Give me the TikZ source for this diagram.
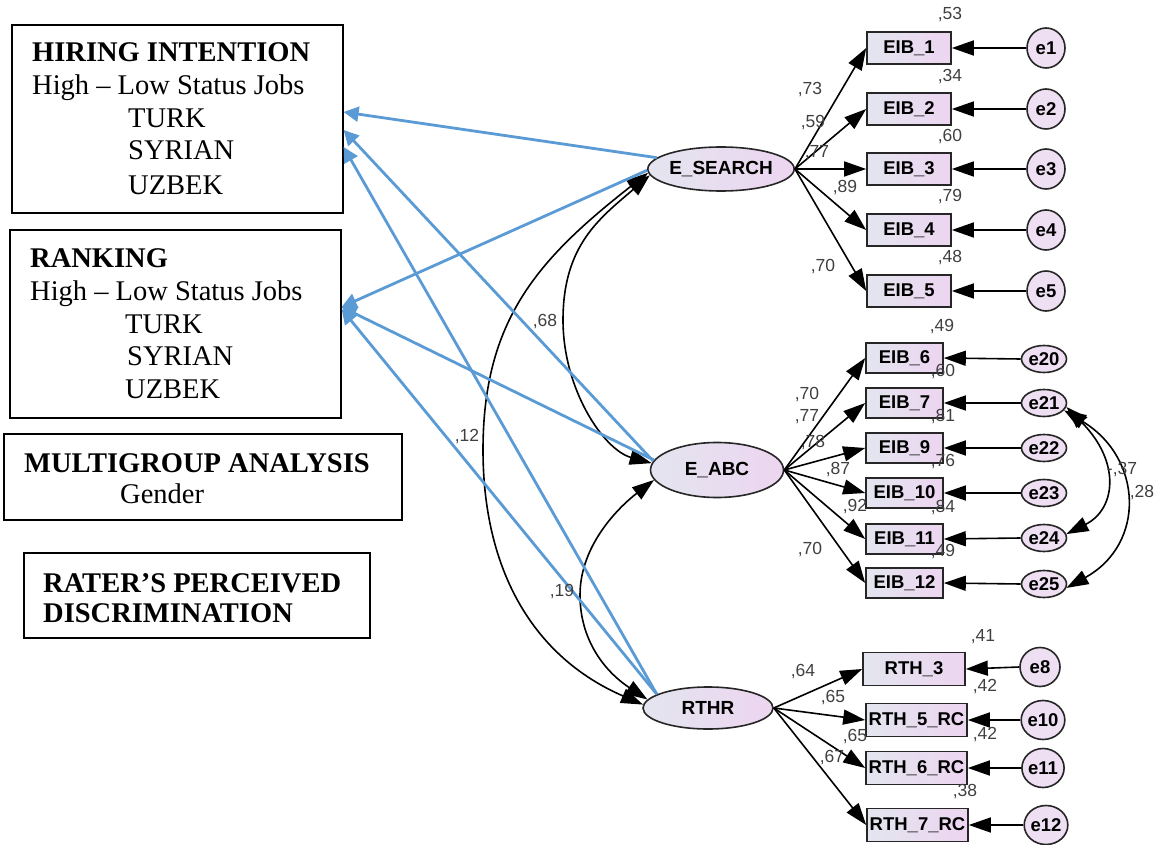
\documentclass[tikz,border=0pt]{standalone}
\usepackage{fontspec}
\setmainfont{Liberation Serif}
\newfontfamily\arialf{Liberation Sans}
\usetikzlibrary{arrows.meta,shapes.geometric}
\definecolor{gL}{HTML}{E3E5EF}
\definecolor{gR}{HTML}{EDD5F0}
\definecolor{ef}{HTML}{EEDFF3}
\definecolor{bl}{HTML}{5B9BD5}
\definecolor{numc}{HTML}{404040}
\tikzset{
  obs/.style={draw=black!85, line width=1.6pt, left color=gL, right color=gR,
    font=\arialf\bfseries\fontsize{18.5}{18.5}\selectfont, inner sep=0},
  lat/.style={ellipse, draw=black!85, line width=1.6pt, left color=gL, right color=gR,
    font=\arialf\bfseries\fontsize{19}{19}\selectfont, inner sep=0},
  err/.style={ellipse, draw=black!85, line width=1.6pt, fill=ef,
    font=\arialf\bfseries\fontsize{18.5}{18.5}\selectfont, inner sep=0},
  num/.style={font=\arialf\fontsize{17.5}{17.5}\selectfont, text=numc, inner sep=0},
  reg/.style={line width=1.6pt, -{Triangle[length=22pt,width=15pt]}},
  cov/.style={line width=1.6pt, {Triangle[length=22pt,width=15pt]}-{Triangle[length=22pt,width=15pt]}},
  bluearr/.style={draw=bl, line width=2.8pt, -{Triangle[length=15pt,width=15pt]}},
  lbox/.style={draw, line width=1.2pt, inner sep=0},
  ltxt/.style={anchor=base west, inner sep=0, font=\fontsize{28.5}{33}\selectfont},
}
\begin{document}
\begin{tikzpicture}[x=1pt,y=-1pt]
\useasboundingbox (0,0) rectangle (1159,845);

% ---------- left boxes ----------
\node[lbox, minimum width=331, minimum height=188] (HI) at (177.5,119) {};
\node[ltxt] (hi1) at (32,62) {\textbf{HIRING INTENTION}};
\node[ltxt] (hi2) at (32,95) {High – Low Status Jobs};
\node[ltxt] (hi3) at (128,128) {TURK};
\node[ltxt] (hi4) at (128,160) {SYRIAN};
\node[ltxt] (hi5) at (128,195) {UZBEK};

\node[lbox, minimum width=331, minimum height=188] (RK) at (175.5,324) {};
\node[ltxt] (rk1) at (30,267) {\textbf{RANKING}};
\node[ltxt] (rk2) at (30,300) {High – Low Status Jobs};
\node[ltxt] (rk3) at (125,333) {TURK};
\node[ltxt] (rk4) at (127,365) {SYRIAN};
\node[ltxt] (rk5) at (125,398) {UZBEK};

\node[lbox, minimum width=398, minimum height=86] (MG) at (203,477) {};
\node[ltxt] (mg1) at (24,472) {\textbf{MULTIGROUP ANALYSIS}};
\node[ltxt] (mg2) at (120,503) {Gender};

\node[lbox, minimum width=346, minimum height=85] (RP) at (197,595.5) {};
\node[ltxt] (rp1) at (43,592) {\textbf{RATER’S PERCEIVED}};
\node[ltxt] (rp2) at (43,622) {\textbf{DISCRIMINATION}};

% ---------- latent variables ----------
\node[lat, minimum width=136, minimum height=44] (ES) at (721,169) {E\_SEARCH};
\node[lat, minimum width=133, minimum height=55] (EA) at (717,470) {E\_ABC};
\node[lat, minimum width=130, minimum height=42] (RT) at (708,708) {RTHR};

% ---------- observed variables ----------
\node[obs, minimum width=84, minimum height=32] (EIB1) at (909,48) {EIB\_1};
\node[obs, minimum width=84, minimum height=32] (EIB2) at (909,109) {EIB\_2};
\node[obs, minimum width=84, minimum height=32] (EIB3) at (909,169) {EIB\_3};
\node[obs, minimum width=84, minimum height=32] (EIB4) at (909,230) {EIB\_4};
\node[obs, minimum width=84, minimum height=32] (EIB5) at (909,291) {EIB\_5};

\node[obs, minimum width=77, minimum height=30] (EIB6) at (904.5,358) {EIB\_6};
\node[obs, minimum width=77, minimum height=30] (EIB7) at (904.5,403) {EIB\_7};
\node[obs, minimum width=77, minimum height=30] (EIB9) at (904.5,448) {EIB\_9};
\node[obs, minimum width=77, minimum height=30] (EIB10) at (904.5,493) {EIB\_10};
\node[obs, minimum width=77, minimum height=30] (EIB11) at (904.5,539) {EIB\_11};
\node[obs, minimum width=77, minimum height=30] (EIB12) at (904.5,583) {EIB\_12};

\node[obs, minimum width=102, minimum height=33] (RTH3) at (914,669) {RTH\_3};
\node[obs, minimum width=101, minimum height=33] (RTH5) at (916.5,720) {RTH\_5\_RC};
\node[obs, minimum width=101, minimum height=33] (RTH6) at (916.5,768) {RTH\_6\_RC};
\node[obs, minimum width=101, minimum height=33] (RTH7) at (917.5,825) {RTH\_7\_RC};

% ---------- error terms ----------
\node[err, minimum width=38, minimum height=40] (e1) at (1046,48) {e1};
\node[err, minimum width=38, minimum height=40] (e2) at (1046,109) {e2};
\node[err, minimum width=38, minimum height=40] (e3) at (1046,169) {e3};
\node[err, minimum width=38, minimum height=40] (e4) at (1046,230) {e4};
\node[err, minimum width=38, minimum height=40] (e5) at (1046,291) {e5};

\node[err, minimum width=45, minimum height=27] (e20) at (1044,359) {e20};
\node[err, minimum width=45, minimum height=27] (e21) at (1044,403) {e21};
\node[err, minimum width=45, minimum height=27] (e22) at (1044,448) {e22};
\node[err, minimum width=45, minimum height=27] (e23) at (1044,493) {e23};
\node[err, minimum width=45, minimum height=27] (e24) at (1044,538) {e24};
\node[err, minimum width=45, minimum height=27] (e25) at (1044,584) {e25};

\node[err, minimum width=40, minimum height=39] (e8) at (1040,667) {e8};
\node[err, minimum width=40, minimum height=39] (e10) at (1043,720) {e10};
\node[err, minimum width=40, minimum height=39] (e11) at (1043,768) {e11};
\node[err, minimum width=40, minimum height=39] (e12) at (1046,825) {e12};

% ---------- regression paths ----------
\foreach \b in {EIB1,EIB2,EIB3,EIB4,EIB5} \draw[reg] (ES.east) -- (\b.west);
\foreach \b in {EIB6,EIB7,EIB9,EIB10,EIB11,EIB12} \draw[reg] (EA.east) -- (\b.west);
\foreach \b in {RTH3,RTH5,RTH6,RTH7} \draw[reg] (RT.east) -- (\b.west);
\foreach \e/\b in {e1/EIB1,e2/EIB2,e3/EIB3,e4/EIB4,e5/EIB5,e20/EIB6,e21/EIB7,e22/EIB9,e23/EIB10,e24/EIB11,e25/EIB12,e8/RTH3,e10/RTH5,e11/RTH6,e12/RTH7}
  \draw[reg] (\e.west) -- (\b.east);

% ---------- covariances ----------
\draw[cov] (ES.183) .. controls (538,259) and (483,320) .. (483,450)
                    .. controls (483,570) and (533,657) .. (RT.177);
\draw[cov] (ES.185) .. controls (600,218) and (563,245) .. (563,320)
                    .. controls (563,390) and (604,450) .. (EA.174);
\draw[cov] (EA.189) .. controls (619,507) and (580,545) .. (580,595)
                    .. controls (580,645) and (610,675) .. (RT.172);
\draw[cov] (e21.350) .. controls (1121,462) and (1116,509) .. (e24.10);
\draw[cov] (e21.340) .. controls (1143,458) and (1146,544) .. (e25.350);

% ---------- blue arrows ----------
\draw[bluearr] (ES.170) -- ([yshift=7pt]HI.east);
\draw[bluearr] (ES.181) -- ([yshift=17pt]RK.east);
\draw[bluearr] (EA.172) -- ([yshift=-11pt]HI.east);
\draw[bluearr] (EA.171) -- ([yshift=17pt]RK.east);
\draw[bluearr] (RT.165) -- ([yshift=-28pt]HI.east);
\draw[bluearr] (RT.165) -- ([yshift=15pt]RK.east);

% ---------- numbers ----------
\node[num] (n1) at (950,15) {,53};
\node[num] (n2) at (950,77) {,34};
\node[num] (n3) at (950,137) {,60};
\node[num] (n4) at (950,197) {,79};
\node[num] (n5) at (950,258) {,48};
\node[num] (n6) at (810,90) {,73};
\node[num] (n7) at (813,123) {,59};
\node[num] (n8) at (817,153) {,77};
\node[num] (n9) at (845,188) {,89};
\node[num] (n10) at (823,267) {,70};

\node[num] (n11) at (942,327) {,49};
\node[num] (n12) at (943,372) {,60};
\node[num] (n13) at (943,417) {,81};
\node[num] (n14) at (943,462) {,76};
\node[num] (n15) at (943,508) {,84};
\node[num] (n16) at (943,552) {,49};
\node[num] (n17) at (807,395) {,70};
\node[num] (n18) at (807,417) {,77};
\node[num] (n19) at (813,443) {,78};
\node[num] (n20) at (838,470) {,87};
\node[num] (n21) at (855,507) {,92};
\node[num] (n22) at (810,550) {,70};

\node[num] (n23) at (983,637) {,41};
\node[num] (n24) at (985,687) {,42};
\node[num] (n25) at (985,735) {,42};
\node[num] (n26) at (965,792) {,38};
\node[num] (n27) at (803,672) {,64};
\node[num] (n28) at (833,698) {,65};
\node[num] (n29) at (855,737) {,65};
\node[num] (n30) at (832,758) {,67};

\node[num] (n31) at (545,322) {,68};
\node[num] (n32) at (467,437) {,12};
\node[num] (n33) at (562,592) {,19};
\node[num] (n34) at (1122,470) {-,37};
\node[num] (n35) at (1142,493) {,28};
\end{tikzpicture}
\end{document}
